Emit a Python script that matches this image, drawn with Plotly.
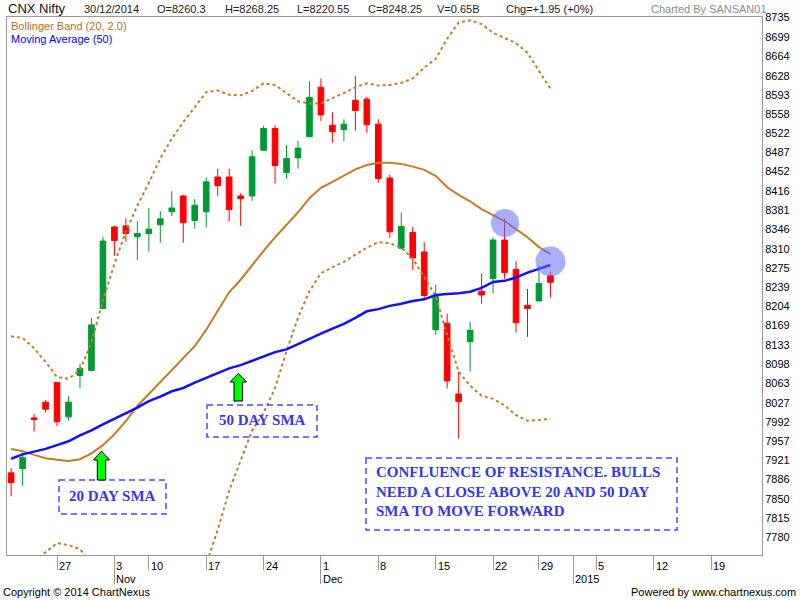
import plotly.graph_objects as go

# ---------- data ----------
dates = ["2014-10-20", "2014-10-21", "2014-10-22", "2014-10-23", "2014-10-27", "2014-10-28",
         "2014-10-29", "2014-10-30", "2014-10-31", "2014-11-03", "2014-11-05", "2014-11-07",
         "2014-11-10", "2014-11-11", "2014-11-12", "2014-11-13", "2014-11-14", "2014-11-17",
         "2014-11-18", "2014-11-19", "2014-11-20", "2014-11-21", "2014-11-24", "2014-11-25",
         "2014-11-26", "2014-11-27", "2014-11-28", "2014-12-01", "2014-12-02", "2014-12-03",
         "2014-12-04", "2014-12-05", "2014-12-08", "2014-12-09", "2014-12-10", "2014-12-11",
         "2014-12-12", "2014-12-15", "2014-12-16", "2014-12-17", "2014-12-18", "2014-12-19",
         "2014-12-22", "2014-12-23", "2014-12-24", "2014-12-26", "2014-12-29", "2014-12-30"]

opens = [7898, 7906, 7999, 8028, 8064, 8001, 8077, 8086, 8200, 8350, 8352, 8332,
         8338, 8354, 8378, 8407, 8362, 8378, 8442, 8442, 8407, 8407, 8491, 8531,
         8450, 8477, 8516, 8607, 8537, 8529, 8583, 8585, 8539, 8440, 8311, 8340,
         8304, 8161, 8173, 8043, 8139, 8232, 8255, 8326, 8272, 8206, 8214, 8260.3]
highs = [7907, 7935, 8006, 8032, 8065, 8039, 8098, 8183, 8332, 8352, 8366, 8361,
         8385, 8379, 8416, 8409, 8401, 8441, 8457, 8457, 8412, 8491, 8536, 8537,
         8501, 8508, 8618, 8623, 8561, 8548, 8628, 8589, 8548, 8446, 8377, 8350,
         8322, 8244, 8190, 8084, 8175, 8265, 8331, 8366, 8287, 8236, 8279, 8268.25]
lows = [7855, 7874, 7974, 8009, 7984, 7994, 8053, 8085, 8199, 8297, 8323, 8289,
        8305, 8321, 8370, 8321, 8347, 8349, 8407, 8360, 8352, 8398, 8490, 8430,
        8439, 8457, 8515, 8545, 8505, 8508, 8527, 8523, 8431, 8330, 8310, 8271,
        8216, 8152, 8053, 7961, 8084, 8209, 8228, 8255, 8156, 8148, 8214, 8220.55]
closes = [7880, 7926, 7996, 8015, 7992, 8028, 8090, 8170, 8324, 8325, 8338, 8338,
          8346, 8365, 8385, 8358, 8390, 8433, 8426, 8382, 8402, 8479, 8531, 8463,
          8476, 8495, 8588, 8556, 8525, 8539, 8564, 8538, 8439, 8341, 8351, 8293,
          8224, 8222, 8067, 8029, 8160, 8225, 8326, 8266, 8174, 8200, 8246, 8248.25]

bb_mid = [7942, 7938, 7931, 7925, 7922, 7920, 7923, 7934, 7949, 7969, 7993, 8021,
          8043, 8065, 8087, 8109, 8131, 8161, 8195, 8230, 8253, 8280, 8306, 8331,
          8354, 8377, 8403, 8422, 8433, 8444, 8456, 8464, 8468, 8468, 8466, 8461,
          8455, 8444, 8423, 8409, 8397, 8383, 8372, 8361, 8346, 8331, 8313, 8300]
bb_upper = [8149, 8146, 8127, 8102, 8074, 8071, 8087, 8138, 8215, 8282, 8342, 8389,
            8431, 8476, 8512, 8543, 8570, 8598, 8601, 8593, 8592, 8600, 8614, 8611,
            8596, 8581, 8577, 8577, 8587, 8596, 8607, 8614, 8610, 8611, 8615, 8623,
            8643, 8659, 8696, 8726, 8730, 8723, 8707, 8698, 8688, 8670, 8638, 8604]
bb_lower = [7735, 7730, 7735, 7752, 7769, 7765, 7758, 7730, 7683, 7656, 7644, 7653,
            7655, 7654, 7662, 7675, 7692, 7730, 7793, 7865, 7922, 7976, 8008, 8054,
            8122, 8183, 8232, 8265, 8276, 8286, 8299, 8312, 8322, 8320, 8312, 8292,
            8258, 8223, 8151, 8084, 8058, 8040, 8034, 8022, 8004, 7994, 7995, 7998]
ma50 = [7924, 7932, 7937, 7942, 7949, 7956, 7967, 7976, 7987, 7997, 8008, 8018,
        8030, 8038, 8048, 8054, 8064, 8073, 8082, 8090, 8096, 8104, 8112, 8120,
        8125, 8135, 8145, 8154, 8163, 8172, 8183, 8195, 8199, 8205, 8209, 8214,
        8217, 8225, 8227, 8228, 8231, 8238, 8249, 8251, 8257, 8266, 8273, 8280]

holidays = ["2014-10-24", "2014-11-04", "2014-11-06", "2014-12-25"]

day_ticks = ["2014-10-27", "2014-11-03", "2014-11-10", "2014-11-17", "2014-11-24",
             "2014-12-01", "2014-12-08", "2014-12-15", "2014-12-22", "2014-12-29",
             "2015-01-05", "2015-01-12", "2015-01-19"]
day_labels = ["27", "3", "10", "17", "24", "1", "8", "15", "22", "29", "5", "12", "19"]
month_ticks = ["2014-11-03", "2014-12-01", "2015-01-01"]
month_labels = ["Nov", "Dec", "2015"]

y_ticks = [8735, 8699, 8664, 8628, 8593, 8558, 8522, 8487, 8452, 8416, 8381, 8346,
           8310, 8275, 8239, 8204, 8169, 8133, 8098, 8063, 8027, 7992, 7957, 7921,
           7886, 7850, 7815, 7780]

# ---------- layout helpers (pixel -> paper) ----------
L, R, T, B = 7, 762, 17, 555


def px(x):
    return (x - L) / (R - L)


def py(y):
    return (B - y) / (B - T)


BROWN = "#c07d22"
BLUE = "#1010ff"
GRAY = "#9a9a9a"
NOTE = "#3535ee"

fig = go.Figure()

fig.add_trace(go.Scatter(x=dates, y=bb_upper, mode="lines",
                         line=dict(color=BROWN, width=2, dash="3px,3px")))
fig.add_trace(go.Scatter(x=dates, y=bb_lower, mode="lines",
                         line=dict(color=BROWN, width=2, dash="3px,3px")))
fig.add_trace(go.Scatter(x=dates, y=bb_mid, mode="lines",
                         line=dict(color=BROWN, width=2)))
fig.add_trace(go.Scatter(x=dates, y=ma50, mode="lines",
                         line=dict(color=BLUE, width=2.5)))

fig.add_trace(go.Candlestick(
    x=dates, open=opens, high=highs, low=lows, close=closes,
    increasing=dict(line=dict(color="#009933", width=1), fillcolor="#009933"),
    decreasing=dict(line=dict(color="#ff0000", width=1), fillcolor="#ff0000"),
    whiskerwidth=0,
))

major = [d for d in day_ticks if d not in month_ticks]

fig.update_xaxes(
    type="date",
    range=["2014-10-17 15:20", "2015-01-23 10:30"],
    rangebreaks=[dict(bounds=["sat", "mon"]), dict(values=holidays)],
    rangeslider=dict(visible=False),
    showgrid=False, zeroline=False,
    showline=True, linecolor=GRAY, linewidth=1, mirror=True,
    tickmode="array", tickvals=major, ticks="outside", ticklen=14,
    tickcolor=GRAY, tickwidth=1, showticklabels=False,
    minor=dict(tickmode="array", tickvals=month_ticks, ticks="outside",
               ticklen=28, tickcolor=GRAY, tickwidth=1),
)
fig.update_yaxes(
    side="right", range=[7747, 8736],
    tickmode="array", tickvals=y_ticks, ticktext=[str(v) for v in y_ticks],
    showgrid=False, zeroline=False,
    showline=True, linecolor=GRAY, linewidth=1, mirror=True,
    ticks="", tickfont=dict(size=11, color="#000"),
)

ann = []
for d, lab in zip(day_ticks, day_labels):
    ann.append(dict(x=d, xref="x", y=py(565.5), yref="paper", text=lab,
                    showarrow=False, xanchor="left", yanchor="middle",
                    font=dict(size=11, color="#000")))
for d, lab in zip(month_ticks, month_labels):
    ann.append(dict(x=d, xref="x", y=py(578.5), yref="paper", text=lab,
                    showarrow=False, xanchor="left", yanchor="middle",
                    font=dict(size=11, color="#000")))

# header row
header = [(6, "CNX Nifty", 13, "#111"), (82, "30/12/2014", 11, "#222"),
          (155, "O=8260.3", 11, "#222"), (223, "H=8268.25", 11, "#222"),
          (295, "L=8220.55", 11, "#222"), (366, "C=8248.25", 11, "#222"),
          (435, "V=0.65B", 11, "#222"), (504, "Chg=+1.95 (+0%)", 11, "#222"),
          (649, "Charted By SANSAN01", 11, "#8c8c8c")]
for x, txt, sz, col in header:
    ann.append(dict(x=px(x), xref="paper", y=py(9), yref="paper", text=txt,
                    showarrow=False, xanchor="left", yanchor="middle",
                    font=dict(size=sz, color=col)))

ann.append(dict(x=px(9), xref="paper", y=py(26), yref="paper",
                text="Bollinger Band (20, 2.0)", showarrow=False,
                xanchor="left", yanchor="middle", font=dict(size=11, color="#b5701a")))
ann.append(dict(x=px(9), xref="paper", y=py(38.5), yref="paper",
                text="Moving Average (50)", showarrow=False,
                xanchor="left", yanchor="middle", font=dict(size=11, color="#0000ee")))

# footer
ann.append(dict(x=px(1), xref="paper", y=py(592), yref="paper",
                text="Copyright © 2014 ChartNexus", showarrow=False,
                xanchor="left", yanchor="middle", font=dict(size=11, color="#000")))
ann.append(dict(x=px(798), xref="paper", y=py(592), yref="paper",
                text="Powered by www.chartnexus.com", showarrow=False,
                xanchor="right", yanchor="middle", font=dict(size=11, color="#000")))

# note texts
serif = "Liberation Serif, Times New Roman, serif"
ann.append(dict(x=px(112.5), xref="paper", y=py(496), yref="paper",
                text="<b>20 DAY SMA</b>", showarrow=False,
                xanchor="center", yanchor="middle",
                font=dict(family=serif, size=15, color=NOTE)))
ann.append(dict(x=px(262), xref="paper", y=py(420), yref="paper",
                text="<b>50 DAY SMA</b>", showarrow=False,
                xanchor="center", yanchor="middle",
                font=dict(family=serif, size=15, color=NOTE)))
ann.append(dict(x=px(374), xref="paper", y=py(491), yref="paper",
                text="<b>CONFLUENCE OF RESISTANCE. BULLS<br>NEED A CLOSE ABOVE 20 AND 50 DAY"
                     "<br>SMA TO MOVE FORWARD</b>",
                showarrow=False, xanchor="left", yanchor="middle", align="left",
                font=dict(family=serif, size=15, color=NOTE)))

shapes = []
for x0, y0, x1, y1 in [(59, 480, 166, 514), (207, 405, 317, 437), (366, 458, 677, 530)]:
    shapes.append(dict(type="rect", xref="paper", yref="paper",
                       x0=px(x0), x1=px(x1), y0=py(y0), y1=py(y1),
                       line=dict(color="#4848ff", width=1.5, dash="6px,4px"),
                       fillcolor="rgba(0,0,0,0)", layer="above"))


def arrow(cx, tip, base, bottom, hw, sw):
    pts = [(cx, tip), (cx + hw, base), (cx + sw, base), (cx + sw, bottom),
           (cx - sw, bottom), (cx - sw, base), (cx - hw, base)]
    path = "M " + " L ".join(f"{px(a):.5f},{py(b):.5f}" for a, b in pts) + " Z"
    return dict(type="path", xref="paper", yref="paper", path=path,
                fillcolor="#00ff00", line=dict(color="#000", width=1), layer="above")


shapes.append(arrow(101.5, 451, 460, 480, 8, 4.2))
shapes.append(arrow(238.3, 373.5, 382, 401, 8.3, 4.3))

for cx, cy, r in [(505, 223, 14), (550.5, 261.5, 15)]:
    shapes.append(dict(type="circle", xref="paper", yref="paper",
                       x0=px(cx - r), x1=px(cx + r), y0=py(cy + r), y1=py(cy - r),
                       fillcolor="rgba(100,110,245,0.55)", line=dict(width=0),
                       layer="above"))

fig.update_layout(
    width=800, height=600,
    margin=dict(l=L, r=800 - R, t=T, b=600 - B),
    paper_bgcolor="white", plot_bgcolor="white",
    showlegend=False,
    font=dict(family="Liberation Sans, Arial, sans-serif", size=11, color="#000"),
    annotations=ann, shapes=shapes,
)

fig.write_html("out.html",
               config={"displayModeBar": False},
               post_script="document.body.style.margin='0';"
                           "document.body.style.overflow='hidden';")
